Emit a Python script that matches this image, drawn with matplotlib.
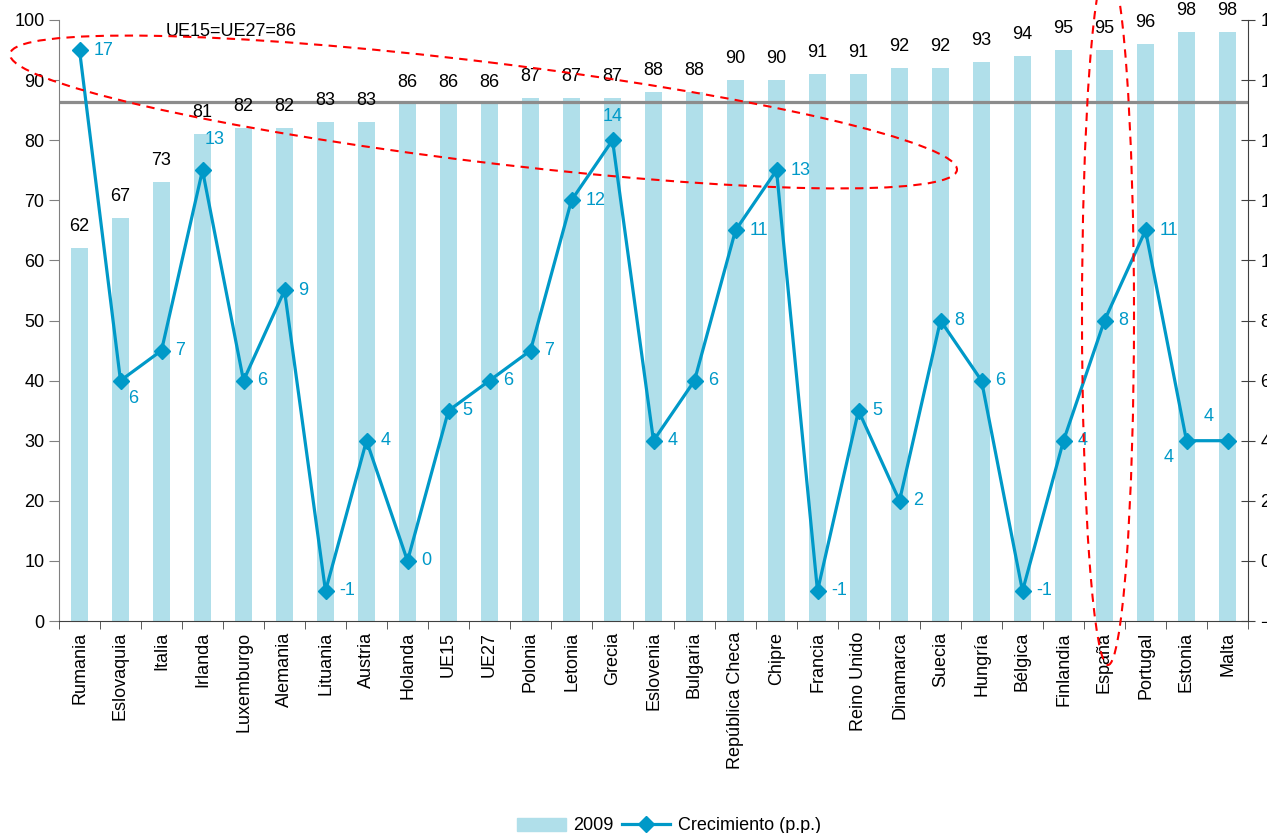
import matplotlib
matplotlib.use("Agg")
from matplotlib import pyplot as plt
from matplotlib.patches import Ellipse
from matplotlib.transforms import Affine2D
import numpy as np

plt.rcParams['font.family'] = ['Liberation Sans', 'DejaVu Sans']
plt.rcParams['font.size'] = 13

# Datos por país
paises = ["Rumania", "Eslovaquia", "Italia", "Irlanda", "Luxemburgo", "Alemania",
          "Lituania", "Austria", "Holanda", "UE15", "UE27", "Polonia", "Letonia",
          "Grecia", "Eslovenia", "Bulgaria", "República Checa", "Chipre", "Francia",
          "Reino Unido", "Dinamarca", "Suecia", "Hungría", "Bélgica", "Finlandia",
          "España", "Portugal", "Estonia", "Malta"]
valores2009 = [62, 67, 73, 81, 82, 82, 83, 83, 86, 86, 86, 87, 87, 87, 88, 88,
               90, 90, 91, 91, 92, 92, 93, 94, 95, 95, 96, 98, 98]
crecimiento = [17, 6, 7, 13, 6, 9, -1, 4, 0, 5, 6, 7, 12, 14, 4, 6,
               11, 13, -1, 5, 2, 8, 6, -1, 4, 8, 11, 4, 4]
media_ue = 86.3
texto_ue = "UE15=UE27=86"

color_barra = '#B0DFEA'
color_linea = '#0099C8'

W, H = 1267, 833
fig = plt.figure(figsize=(W/100, H/100), dpi=100)
ax = fig.add_axes([59/W, 1-621/H, (1248-59)/W, (621-20)/H])
ax2 = ax.twinx()

x = np.arange(len(paises))
ax.bar(x, valores2009, width=0.42, color=color_barra, zorder=1)
ax.axhline(media_ue, color='#8C8C8C', lw=2.3, zorder=2)
ax.text(2.09, 97.3, texto_ue, ha='left', va='baseline', fontsize=13)

for xi, v in zip(x, valores2009):
    ax.annotate(str(v), (xi, v), xytext=(0, 12.5), textcoords='offset points',
                ha='center', va='baseline', fontsize=13)

ax.set_xlim(-0.5, len(paises)-0.5)
ax.set_ylim(0, 100)
ax.set_yticks(range(0, 101, 10))
ax.set_xticks(x)
ax.set_xticklabels(paises, rotation=90)
ax.set_xticks(np.arange(-0.5, len(paises), 1), minor=True)
ax.tick_params(axis='x', which='major', length=0, pad=8)
ax.tick_params(axis='x', which='minor', length=6, direction='out', color='#404040')
ax.tick_params(axis='y', length=7, direction='out', color='#808080')
for s in ['top', 'right']:
    ax.spines[s].set_visible(False)
ax.spines['left'].set_color('#808080')
ax.spines['bottom'].set_color('#404040')

# Crecimiento en eje secundario
ax2.plot(x, crecimiento, color=color_linea, lw=2.3, marker='D', markersize=8, zorder=3)
ax2.set_ylim(-2, 18)
ax2.set_yticks(range(-2, 19, 2))
ax2.tick_params(axis='y', length=10, direction='inout', color='#404040', pad=4)
for s in ['top', 'left', 'bottom']:
    ax2.spines[s].set_visible(False)
ax2.spines['right'].set_color('#404040')

# posición de etiquetas (offset en px)
offs = {1: (13, -18, 'center'), 3: (12, 31, 'center'), 13: (0, 24, 'center'),
        27: (-18, -17, 'center'), 28: (-19, 24, 'center')}
for xi, c in zip(x, crecimiento):
    dx, dy, ha = offs.get(xi, (14, 0, 'left'))
    ax2.annotate(str(c), (xi, c), xytext=(dx*0.72, dy*0.72), textcoords='offset points',
                 ha=ha, va='center', color=color_linea, fontsize=13)

ax.set_zorder(1)
ax2.set_zorder(2)

# Elipses rojas (coordenadas en px desde arriba a la izquierda)
px = Affine2D().scale(1, -1).translate(0, H)
fig.add_artist(Ellipse((483.5, 112), 954, 100, angle=7, transform=px, fill=False,
                       ec='red', lw=1.5, ls=(0, (4, 3)), zorder=5))
fig.add_artist(Ellipse((1108, 315), 52, 700, angle=0, transform=px, fill=False,
                       ec='red', lw=1.5, ls=(0, (4, 3)), zorder=5))

# Leyenda
from matplotlib.patches import Patch
from matplotlib.lines import Line2D
h1 = Patch(color=color_barra)
h2 = Line2D([], [], color=color_linea, lw=2.3, marker='D', markersize=8)
fig.legend([h1, h2], ["2009", "Crecimiento (p.p.)"], loc='center',
           bbox_to_anchor=(669/W, 1-826/H), ncol=2, frameon=False,
           handlelength=2.7, handletextpad=0.4, columnspacing=0.45, fontsize=13)

fig.savefig("out.png", dpi=100)
